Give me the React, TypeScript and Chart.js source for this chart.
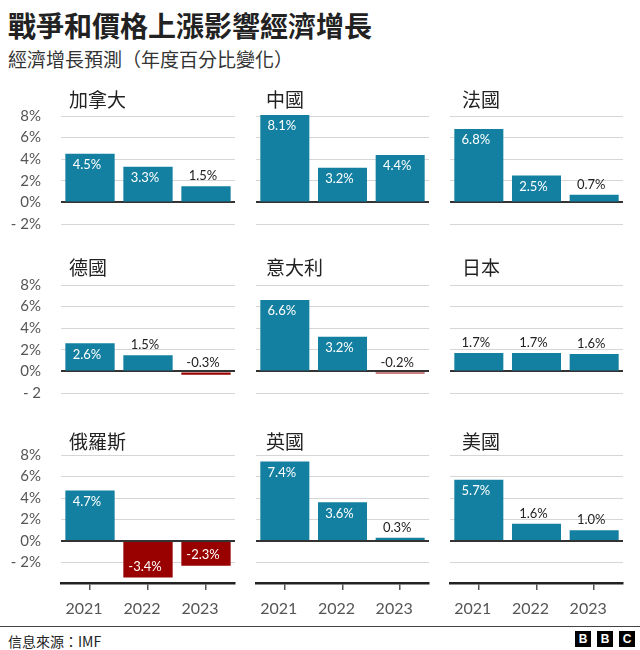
import React, { useEffect, useRef } from 'react';
import { Chart, registerables } from 'chart.js';

Chart.register(...registerables);

// ---------- data ----------
const categories = ['2021', '2022', '2023'];
const countries = ['加拿大', '中國', '法國', '德國', '意大利', '日本', '俄羅斯', '英國', '美國'];
const canada = [4.5, 3.3, 1.5];
const china = [8.1, 3.2, 4.4];
const france = [6.8, 2.5, 0.7];
const germany = [2.6, 1.5, -0.3];
const italy = [6.6, 3.2, -0.2];
const japan = [1.7, 1.7, 1.6];
const russia = [4.7, -3.4, -2.3];
const uk = [7.4, 3.6, 0.3];
const usa = [5.7, 1.6, 1.0];
const seriesValues = [canada, china, france, germany, italy, japan, russia, uk, usa];

const yTickValues = [-2, 0, 2, 4, 6, 8];
const yTickLabelsPct = ['- 2%', '0%', '2%', '4%', '6%', '8%'];
const yTickLabelsRow2 = ['- 2', '0%', '2%', '4%', '6%', '8%'];
const rowTickLabels = [yTickLabelsPct, yTickLabelsRow2, yTickLabelsPct];
const yMax = 8;
const rowYMin = [-2, -2, -3.9];

const titleText = '戰爭和價格上漲影響經濟增長';
const subtitleText = '經濟增長預測（年度百分比變化）';
const sourceText = '信息來源：IMF';

// ---------- style / layout ----------
const BLUE = '#1380a1';
const RED = '#990000';
const LATIN = "Lato, 'Noto Sans', sans-serif";
const CJK = "'Noto Sans CJK TC', 'Noto Sans', sans-serif";

const colPlotLeft = [61, 256, 450];
const colPlotRight = [235, 429, 623];
const rowPlotTop = [116, 285, 455];
const pxPerUnit = 10.77;
const colTitleLeft = [69, 266, 462];
const rowTitleCenter = [99, 267, 441];
const PAD_TOP = 16;
const PAD_BOTTOM = 10;
const XAXIS_H = 42;

const barLabelPlugin = {
  id: 'barLabels',
  afterDatasetsDraw(chart: any) {
    const ctx = chart.ctx;
    const meta = chart.getDatasetMeta(0);
    const data = chart.data.datasets[0].data as number[];
    ctx.save();
    ctx.font = `13px ${LATIN}`;
    ctx.textAlign = 'center';
    ctx.textBaseline = 'middle';
    meta.data.forEach((bar: any, i: number) => {
      const v = data[i];
      const text = v.toFixed(1) + '%';
      const x = bar.x - 3;
      const top = Math.min(bar.y, bar.base);
      const bottom = Math.max(bar.y, bar.base);
      let y: number;
      if (Math.abs(v) >= 2) {
        ctx.fillStyle = '#ffffff';
        y = v > 0 ? top + 11 : bottom - 11;
      } else {
        ctx.fillStyle = '#222222';
        y = top - 10;
      }
      ctx.fillText(text, x, y);
    });
    ctx.restore();
  },
};

function Panel({ index }: { index: number }) {
  const ref = useRef<HTMLCanvasElement | null>(null);
  const row = Math.floor(index / 3);
  const col = index % 3;
  const axisW = col === 0 ? 61 : 6;
  const left = colPlotLeft[col] - axisW;
  const width = colPlotRight[col] - left + 6;
  const plotTop = rowPlotTop[row];
  const plotBottom = plotTop + (yMax - rowYMin[row]) * pxPerUnit;
  const top = plotTop - PAD_TOP;
  const isBottom = row === 2;
  const height = Math.round(plotBottom - top + (isBottom ? XAXIS_H : PAD_BOTTOM));

  useEffect(() => {
    if (!ref.current) return;
    const values = seriesValues[index];
    const labels = rowTickLabels[row];
    const chart = new Chart(ref.current, {
      type: 'bar',
      data: {
        labels: categories,
        datasets: [
          {
            data: values,
            backgroundColor: values.map((v) => (v < 0 ? RED : BLUE)),
            barPercentage: 0.85,
            categoryPercentage: 1.0,
            clip: false as any,
          },
        ],
      },
      options: {
        animation: false,
        responsive: false,
        maintainAspectRatio: false,
        devicePixelRatio: 1,
        layout: {
          autoPadding: false,
          padding: { left: 0, right: 6, top: PAD_TOP, bottom: isBottom ? 0 : PAD_BOTTOM },
        },
        plugins: { legend: { display: false }, tooltip: { enabled: false }, title: { display: false } },
        scales: {
          x: {
            display: isBottom,
            offset: true,
            grid: {
              display: true,
              drawOnChartArea: false,
              drawTicks: true,
              tickLength: 7,
              offset: false,
              color: '#555',
              lineWidth: 1.5,
            },
            border: { display: true, color: '#222', width: 2.5 },
            ticks: {
              color: '#555',
              font: { size: 16, family: LATIN },
              padding: 9,
              labelOffset: -6,
              maxRotation: 0,
            },
            afterFit: (s: any) => {
              s.height = isBottom ? XAXIS_H : 0;
            },
          },
          y: {
            min: rowYMin[row],
            max: yMax,
            afterBuildTicks: (s: any) => {
              s.ticks = yTickValues.map((v) => ({ value: v }));
            },
            afterFit: (s: any) => {
              s.width = axisW;
              s.paddingTop = 0;
              s.paddingBottom = 0;
            },
            border: { display: false },
            grid: {
              drawTicks: false,
              color: (c: any) => (c.tick && c.tick.value === 0 ? '#333333' : '#d6d6d6'),
              lineWidth: (c: any) => (c.tick && c.tick.value === 0 ? 2 : 1),
            },
            ticks: {
              display: col === 0,
              autoSkip: false,
              padding: 20,
              color: '#555',
              font: { size: 15, family: LATIN },
              callback: (_v: any, i: number) => labels[i],
            },
          },
        },
      },
      plugins: [barLabelPlugin],
    });
    return () => chart.destroy();
  }, [index]);

  return (
    <>
      <canvas
        ref={ref}
        width={width}
        height={height}
        style={{ position: 'absolute', left, top, width, height }}
      />
      <div
        style={{
          position: 'absolute',
          left: colTitleLeft[col],
          top: rowTitleCenter[row] - 10,
          fontFamily: CJK,
          fontSize: 19,
          lineHeight: '20px',
          color: '#222',
          whiteSpace: 'nowrap',
        }}
      >
        {countries[index]}
      </div>
    </>
  );
}

export default function App() {
  const bbc = ['B', 'B', 'C'];
  const bbcLeft = [575, 597, 619];
  return (
    <div
      style={{
        position: 'absolute',
        left: 0,
        top: 0,
        width: 640,
        height: 650,
        background: '#fff',
        overflow: 'hidden',
      }}
    >
      <div
        style={{
          position: 'absolute',
          left: 8,
          top: 11,
          fontFamily: CJK,
          fontSize: 28,
          fontWeight: 700,
          lineHeight: '28px',
          color: '#222',
          whiteSpace: 'nowrap',
        }}
      >
        {titleText}
      </div>
      <div
        style={{
          position: 'absolute',
          left: 8,
          top: 49,
          fontFamily: CJK,
          fontSize: 19,
          lineHeight: '19px',
          color: '#333',
          whiteSpace: 'nowrap',
        }}
      >
        {subtitleText}
      </div>
      {countries.map((_, i) => (
        <Panel key={i} index={i} />
      ))}
      <div style={{ position: 'absolute', left: 0, top: 626, width: 640, height: 1, background: '#444' }} />
      <div
        style={{
          position: 'absolute',
          left: 8,
          top: 634,
          fontFamily: CJK,
          fontSize: 14,
          lineHeight: '14px',
          color: '#222',
          whiteSpace: 'nowrap',
        }}
      >
        {sourceText}
      </div>
      {bbc.map((ch, i) => (
        <div
          key={i}
          style={{
            position: 'absolute',
            left: bbcLeft[i],
            top: 631,
            width: 16,
            height: 16,
            background: '#000',
            color: '#fff',
            fontFamily: "'Liberation Sans', Arial, sans-serif",
            fontWeight: 700,
            fontSize: 12,
            lineHeight: '16px',
            textAlign: 'center',
          }}
        >
          {ch}
        </div>
      ))}
    </div>
  );
}
